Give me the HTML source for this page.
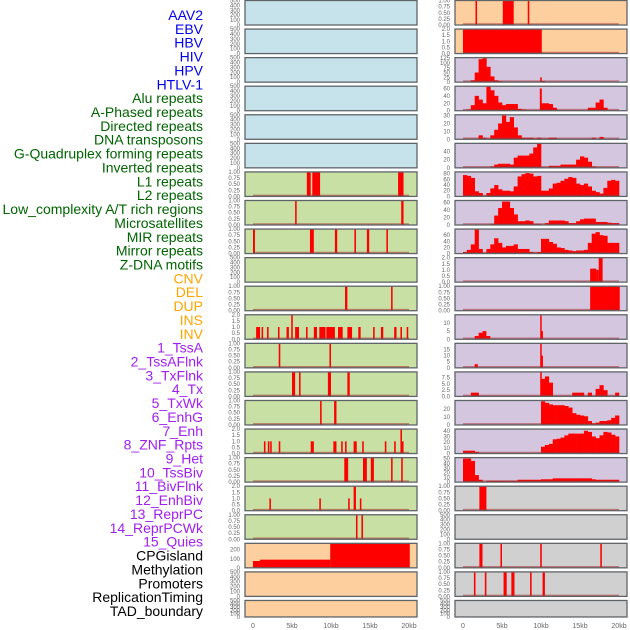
<!DOCTYPE html>
<html><head><meta charset="utf-8"><style>
html,body{margin:0;padding:0;background:#fff;}
svg{display:block;font-family:"Liberation Sans",sans-serif;}
</style></head><body>
<svg id="chart" width="630" height="630" xmlns="http://www.w3.org/2000/svg"></svg>
<script>
// ---------- labels ----------
const labelNames = ["AAV2","EBV","HBV","HIV","HPV","HTLV-1","Alu repeats","A-Phased repeats","Directed repeats","DNA transposons","G-Quadruplex forming repeats","Inverted repeats","L1 repeats","L2 repeats","Low_complexity A/T rich regions","Microsatellites","MIR repeats","Mirror repeats","Z-DNA motifs","CNV","DEL","DUP","INS","INV","1_TssA","2_TssAFlnk","3_TxFlnk","4_Tx","5_TxWk","6_EnhG","7_Enh","8_ZNF_Rpts","9_Het","10_TssBiv","11_BivFlnk","12_EnhBiv","13_ReprPC","14_ReprPCWk","15_Quies","CPGisland","Methylation","Promoters","ReplicationTiming","TAD_boundary"];
const labelGroups = ["v","v","v","v","v","v","r","r","r","r","r","r","r","r","r","r","r","r","r","s","s","s","s","s","c","c","c","c","c","c","c","c","c","c","c","c","c","c","c","o","o","o","o","o"];
// ---------- x axis ----------
const xTickKb = [0,5,10,15,20];
const xTickLabels = ["0","5kb","10kb","15kb","20kb"];
// ---------- tick label sets ----------
const ticksEmpty = ["0","100","200","300","400","500"];
const ticksEmptyVals = [0,100,200,300,400,500];
const ticksUnit = [0,0.25,0.5,0.75,1.0];
const ticksUnitLbl = ["0.00","0.25","0.50","0.75","1.00"];
const ticksTwo = [0,0.5,1.0,1.5,2.0];
const ticksTwoLbl = ["0.0","0.5","1.0","1.5","2.0"];
// ---------- middle column spikes [startKb,endKb,value] ----------
const aluSpikes = [[6.9,7.4,1],[7.6,8.6,1],[18.6,19.3,1]];
const aPhasedSpikes = [[5.4,5.6,1],[19.0,19.3,1]];
const directedSpikes = [[0.0,0.25,1],[7.3,7.8,1],[10.5,10.8,1],[13.0,13.2,1],[14.6,14.9,1],[17.1,17.3,1]];
const gquadSpikes = [[11.8,12.1,1],[17.7,17.9,1]];
const invertedSpikes = [[0.4,0.9,1],[1.1,1.3,1],[1.8,2.0,1],[3.2,3.4,1],[4.3,4.6,1],[4.9,5.1,2],[5.4,5.9,1],[6.8,7.0,1],[7.8,8.2,1],[8.5,9.3,1],[9.4,10.5,1],[10.9,11.5,1],[12.1,12.7,1],[13.5,13.8,1],[15.4,15.6,1],[16.4,16.7,1],[18.1,18.4,1],[18.9,19.1,1],[19.7,19.9,1]];
const l1Spikes = [[3.3,3.5,1],[9.8,10.0,1]];
const l2Spikes = [[5.0,5.4,1],[5.9,6.1,1],[9.6,10.0,1],[12.1,12.4,1]];
const lowCompSpikes = [[8.6,8.8,1],[10.4,10.7,1]];
const microSpikes = [[1.4,1.6,1],[1.9,2.1,1],[2.2,2.4,1],[3.3,3.5,1],[7.4,7.8,1],[10.3,10.7,1],[11.3,11.5,1],[11.8,12.0,1],[12.9,13.3,1],[14.0,14.2,1],[16.9,17.1,1],[18.1,18.3,1],[18.9,19.1,2],[19.1,19.3,1]];
const mirSpikes = [[11.7,12.2,1],[14.1,14.6,1],[15.1,15.5,1],[17.7,17.9,1],[19.0,19.2,1]];
const mirrorSpikes = [[2.1,2.3,1],[8.5,8.7,1],[12.2,12.4,1],[12.9,13.2,2],[13.7,13.9,1]];
const zdnaSpikes = [[13.2,13.4,1],[13.9,14.1,1]];
const cnvSteps = [[0,0.9,75],[0.9,9.9,90],[9.9,20.1,270]];
// ---------- right column ----------
const insSpikes = [[1.6,1.8,1],[5.1,6.5,1],[8.3,8.5,1]];
const invSpikes = [[0,10.1,2]];
const tssAHist = [1,1,10,50,120,125,80,30,10,5,3,2,2,2,2,2,2,2,2,2,6,2,0,0,0,0,0,0,0,0,0,2,2,0,0,0,0,0,0,0];
const tssASpikes = [[9.9,10.1,25]];
const tssAFlnkHist = [0,3,15,40,30,20,65,55,40,22,15,18,18,18,5,3,0,0,0,0,20,20,18,8,0,0,0,0,0,0,0,0,8,8,22,30,8,0,0,0];
const tssAFlnkSpikes = [[9.85,10.1,60]];
const txFlnkHist = [1,1,1,1,5,2,1,5,12,20,30,22,28,15,5,2,2,2,1,2,1,1,2,2,0,0,0,0,0,0,0,0,0,2,0,3,0,0,0,0];
const txHist = [0,0,0,0,0,0,0,3,8,10,10,10,8,25,30,30,30,35,50,60,0,0,5,5,5,8,8,8,8,20,28,25,15,3,0,0,0,0,0,0];
const txWkHist = [75,72,65,18,12,2,12,28,40,25,20,20,18,35,70,78,82,80,70,72,20,20,28,45,48,55,62,68,65,45,40,45,35,20,15,10,30,55,58,55];
const enhGHist = [1,1,1,1,1,1,1,3,25,45,62,62,45,28,10,10,12,10,3,3,1,5,12,12,12,12,10,5,5,10,15,17,17,17,8,8,8,6,5,5];
const enhHist = [5,12,30,80,15,2,15,30,50,35,20,25,25,30,15,15,15,5,3,5,48,48,38,32,20,18,12,10,8,10,10,12,35,65,70,60,58,35,35,35];
const znfSpikes = [[16.3,17.1,1.1],[17.1,17.4,1],[17.4,17.9,2]];
const hetSpikes = [[16.3,20.1,1]];
const tssBivSpikes = [[1.5,2.0,2],[2.0,2.5,4],[2.5,3.0,5],[3.0,3.5,2],[9.9,10.05,15],[10.05,10.25,5]];
const bivFlnkSpikes = [[1.5,1.9,3],[9.9,10.05,20],[10.05,10.25,10]];
const enhBivHist = [0,0,1.5,1.5,0,0,0,0,0,0,0,0,0,0,0,0,0,0,0,0,7,8,5.5,0,0,0,0,0,1.5,1.5,1.5,0,1.5,0,3,4.5,2.5,0,0,1.5];
const enhBivSpikes = [[9.9,10.1,9.8]];
const reprPCHist = [0,0,0,0,0,0,0,0,0,0,0,0,0,0,0,0,0,0,0,0,30,28,26,25,25,25,24,22,15,13,12,11,5,2,3,5,5,6,9,12];
const reprPCWkHist = [5,5,5,3,0.5,0.5,0.5,0.5,0.5,0.5,0.5,0.5,0.5,0.5,0.5,0.5,0.5,0.5,0.5,0.5,12,15,17,25,26,28,32,35,35,35,35,40,38,30,27,32,38,37,33,30];
const quiesHist = [50,50,45,15,5,0,3,3,3,3,3,3,3,3,5,5,5,5,5,5,6,6,6,8,8,8,8,8,8,8,8,8,8,6,5,5,5,5,5,5];
const grayASpikes = [[2.1,3.0,1]];
const cpgSpikes = [[2.1,2.5,1],[4.8,5.0,1],[9.9,10.1,1],[17.6,17.8,1]];
const promoterSpikes = [[1.4,1.6,1],[2.8,3.0,1],[5.2,5.6,1],[6.2,6.6,1],[8.6,8.8,1],[10.2,10.5,1]];

// ---------- panel configuration ----------
const panelsMid = [
 {bg:"#c6e3ec",empty:true},{bg:"#c6e3ec",empty:true},{bg:"#c6e3ec",empty:true},{bg:"#c6e3ec",empty:true},{bg:"#c6e3ec",empty:true},{bg:"#c6e3ec",empty:true},
 {bg:"#c8e0a4",spikes:aluSpikes,ymax:1,t:ticksUnit,tl:ticksUnitLbl},
 {bg:"#c8e0a4",spikes:aPhasedSpikes,ymax:1,t:ticksUnit,tl:ticksUnitLbl},
 {bg:"#c8e0a4",spikes:directedSpikes,ymax:1,t:ticksUnit,tl:ticksUnitLbl},
 {bg:"#c8e0a4",empty:true},
 {bg:"#c8e0a4",spikes:gquadSpikes,ymax:1,t:ticksUnit,tl:ticksUnitLbl},
 {bg:"#c8e0a4",spikes:invertedSpikes,ymax:2,t:ticksTwo,tl:ticksTwoLbl},
 {bg:"#c8e0a4",spikes:l1Spikes,ymax:1,t:ticksUnit,tl:ticksUnitLbl},
 {bg:"#c8e0a4",spikes:l2Spikes,ymax:1,t:ticksUnit,tl:ticksUnitLbl},
 {bg:"#c8e0a4",spikes:lowCompSpikes,ymax:1,t:ticksUnit,tl:ticksUnitLbl},
 {bg:"#c8e0a4",spikes:microSpikes,ymax:2,t:ticksTwo,tl:ticksTwoLbl},
 {bg:"#c8e0a4",spikes:mirSpikes,ymax:1,t:ticksUnit,tl:ticksUnitLbl},
 {bg:"#c8e0a4",spikes:mirrorSpikes,ymax:2,t:ticksTwo,tl:ticksTwoLbl},
 {bg:"#c8e0a4",spikes:zdnaSpikes,ymax:1,t:ticksUnit,tl:ticksUnitLbl},
 {bg:"#fecf9e",spikes:cnvSteps,ymax:270,t:[0,100,200],tl:["0","100","200"],nobase:true},
 {bg:"#fecf9e",empty:true},{bg:"#fecf9e",empty:true}
];
const panelsRight = [
 {bg:"#fecf9e",spikes:insSpikes,ymax:1,t:ticksUnit,tl:ticksUnitLbl},
 {bg:"#fecf9e",spikes:invSpikes,ymax:2,t:ticksTwo,tl:ticksTwoLbl},
 {bg:"#d5c6e0",hist:tssAHist,spikes:tssASpikes,ymax:128,t:[0,25,50,75,100,125],tl:["0","25","50","75","100","125"]},
 {bg:"#d5c6e0",hist:tssAFlnkHist,spikes:tssAFlnkSpikes,ymax:66,t:[0,20,40,60],tl:["0","20","40","60"]},
 {bg:"#d5c6e0",hist:txFlnkHist,ymax:31,t:[0,10,20,30],tl:["0","10","20","30"]},
 {bg:"#d5c6e0",hist:txHist,ymax:60,t:[0,20,40],tl:["0","20","40"]},
 {bg:"#d5c6e0",hist:txWkHist,ymax:86,t:[0,20,40,60,80],tl:["0","20","40","60","80"]},
 {bg:"#d5c6e0",hist:enhGHist,ymax:65,t:[0,20,40,60],tl:["0","20","40","60"]},
 {bg:"#d5c6e0",hist:enhHist,ymax:80,t:[0,20,40,60],tl:["0","20","40","60"]},
 {bg:"#d5c6e0",spikes:znfSpikes,ymax:2,t:ticksTwo,tl:ticksTwoLbl},
 {bg:"#d5c6e0",spikes:hetSpikes,ymax:1,t:ticksUnit,tl:ticksUnitLbl},
 {bg:"#d5c6e0",spikes:tssBivSpikes,ymax:15,t:[0,5,10],tl:["0","5","10"]},
 {bg:"#d5c6e0",spikes:bivFlnkSpikes,ymax:20,t:[0,5,10,15],tl:["0","5","10","15"]},
 {bg:"#d5c6e0",hist:enhBivHist,spikes:enhBivSpikes,ymax:9.8,t:[0,2.5,5,7.5],tl:["0.0","2.5","5.0","7.5"]},
 {bg:"#d5c6e0",hist:reprPCHist,ymax:31,t:[0,10,20],tl:["0","10","20"]},
 {bg:"#d5c6e0",hist:reprPCWkHist,ymax:43,t:[0,10,20,30,40],tl:["0","10","20","30","40"]},
 {bg:"#d5c6e0",hist:quiesHist,ymax:52,t:[0,10,20,30,40,50],tl:["0","10","20","30","40","50"]},
 {bg:"#d0d0d0",spikes:grayASpikes,ymax:1,t:ticksUnit,tl:ticksUnitLbl},
 {bg:"#d0d0d0",empty:true},
 {bg:"#d0d0d0",spikes:cpgSpikes,ymax:1,t:ticksUnit,tl:ticksUnitLbl},
 {bg:"#d0d0d0",spikes:promoterSpikes,ymax:1,t:ticksUnit,tl:ticksUnitLbl},
 {bg:"#d0d0d0",empty:true}
];

const NS = "http://www.w3.org/2000/svg";
const svg = document.getElementById("chart");
function mk(tag, attrs, parent){
  const e = document.createElementNS(NS, tag);
  for (const k in attrs) e.setAttribute(k, attrs[k]);
  (parent||svg).appendChild(e);
  return e;
}
const groupColor = {v:"#0000ee",r:"#006400",s:"#ffa500",c:"#a020f0",o:"#000000"};
labelNames.forEach((n,i)=>{
  const t = mk("text",{x:203,y:(15+13.86*i+5).toFixed(1),"text-anchor":"end","font-size":"14",fill:groupColor[labelGroups[i]]});
  t.textContent = n;
  
  
});

function drawPanel(p, i, x0, zeroX, col){
  const top = 0.5 + 28.57*i;
  const h = (i===21) ? 16.5 : 24.5;
  const bot = top + h;
  const W = 172;
  const g = mk("g",{});
  
  
  const bg = mk("rect",{x:x0,y:top,width:W,height:h,fill:p.bg},g);
  
  
  const xs = kb => zeroX + kb*7.8;
  const ymax = p.empty ? 500 : p.ymax;
  const ys = v => bot - (v/ymax)*h;
  const tv = p.empty ? ticksEmptyVals : p.t;
  const tl = p.empty ? ticksEmpty : p.tl;
  tv.forEach((v,k)=>{
    const t = mk("text",{x:x0-5,y:(ys(v)+2).toFixed(1),"text-anchor":"end","font-size":"6",fill:"#666"},g);
    t.textContent = tl[k];
    
    
  });
  if (!p.empty){
    if (p.hist){
      p.hist.forEach((v,k)=>{
        if (v<=0) return;
        const r = mk("rect",{x:xs(k*0.5).toFixed(2),y:ys(v).toFixed(2),width:(0.5*7.8+0.3).toFixed(2),height:(bot-ys(v)).toFixed(2),fill:"#ff0000"},g);
        
        
      });
    }
    if (p.spikes){
      p.spikes.forEach(s=>{
        const x1 = xs(s[0]), x2 = xs(s[1]);
        const r = mk("rect",{x:x1.toFixed(2),y:Math.max(top,ys(s[2])).toFixed(2),width:Math.max(1.5,x2-x1).toFixed(2),height:(bot-Math.max(top,ys(s[2]))).toFixed(2),fill:"#ff0000"},g);
        
        
      });
    }
    if (!p.nobase){
      const b = mk("line",{x1:xs(0),x2:xs(20),y1:bot-1,y2:bot-1,stroke:"rgba(170,40,40,0.55)","stroke-width":"1.6"},g);
      
      
    }
  }
  const fr = mk("rect",{x:x0,y:top,width:W,height:h,fill:"none",stroke:"#5f6468","stroke-width":"1.3"},g);
  
  
}
panelsMid.forEach((p,i)=>drawPanel(p,i,245,253,"middle"));
panelsRight.forEach((p,i)=>drawPanel(p,i,455,463,"right"));

[253,463].forEach(z=>{
  xTickKb.forEach((k,j)=>{
    const t = mk("text",{x:(z+k*7.8).toFixed(1),y:628,"text-anchor":"middle","font-size":"7",fill:"#666"});
    t.textContent = xTickLabels[j];
    
    
  });
});
</script>
</body></html>
